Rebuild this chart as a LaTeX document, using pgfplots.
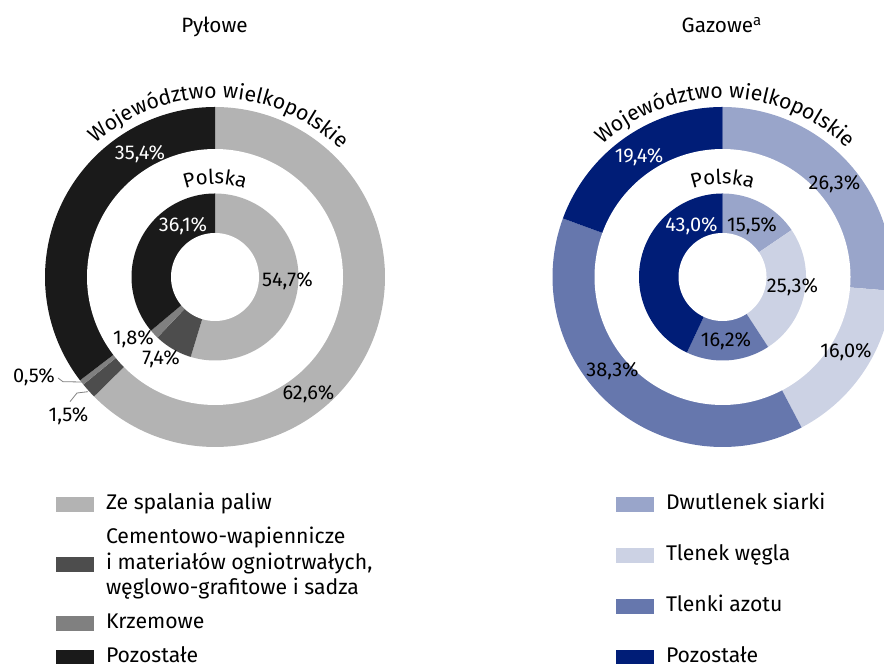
\documentclass[border=0pt]{standalone}
\usepackage{fontspec}
\setmainfont{Fira Sans}
\usepackage{pgfplots}
\pgfplotsset{compat=1.18}
\usetikzlibrary{decorations.text}

\definecolor{gA}{HTML}{B3B3B3}
\definecolor{gC}{HTML}{4D4D4D}
\definecolor{gK}{HTML}{808080}
\definecolor{gP}{HTML}{1A1A1A}
\definecolor{bS}{HTML}{99A5CA}
\definecolor{bC}{HTML}{CCD2E4}
\definecolor{bN}{HTML}{6677AD}
\definecolor{bP}{HTML}{001D77}

\newcommand{\pctfont}{\fontsize{20}{24}\selectfont}
\newcommand{\legfont}{\fontsize{21.3}{25.5}\selectfont}
\newcommand{\arcfont}{\fontsize{21.3}{24}\selectfont}
\newcommand{\polfont}{\fontsize{20.5}{24}\selectfont}
\newcommand{\titfont}{\fontsize{20.8}{24}\selectfont}

% #1 cx, #2 cy, #3 radius, #4 cumulative share before the slice (%), #5 share (%), #6 colour
\newcommand{\slice}[6]{%
  \addplot[draw=none, fill=#6, forget plot, samples=120, variable=\t,
    domain={90-3.6*(#4+#5)}:{90-3.6*(#4)}]
    ({#1+#3*cos(\t)}, {#2+#3*sin(\t)}) -- (axis cs:#1,#2) -- cycle;
}
\newcommand{\hole}[3]{%
  \addplot[draw=none, fill=white, forget plot, samples=180, variable=\t, domain=0:360]
    ({#1+#3*cos(\t)}, {#2+#3*sin(\t)}) -- cycle;
}

\pgfplotsset{
  donut/.style={
    scale only axis, width=442bp, height=664bp,
    ymin=0, ymax=664, hide axis, clip=true,
    legend image code/.code={\fill[##1, draw=none] (0bp,-7.5bp) rectangle (38bp,7.5bp);},
    legend cell align=left,
    legend style={anchor=north west, draw=none, fill=none, inner sep=0pt, outer sep=0pt,
      column sep=12bp, font=\legfont,
      nodes={inner sep=0pt, outer sep=0pt, text height=15bp, text depth=5bp}},
  }
}

\begin{document}
\begin{tikzpicture}
% ---------------- Pyłowe ----------------
\begin{axis}[donut, at={(0bp,0bp)}, anchor=south west, xmin=0, xmax=442,
  legend style={at={(56/442,169.5/664)}, row sep=14bp}]
% outer ring: województwo wielkopolskie
\slice{215}{387}{170}{0}{62.6}{gA}
\slice{215}{387}{170}{62.6}{1.5}{gC}
\slice{215}{387}{170}{62.6+1.5}{0.5}{gK}
\slice{215}{387}{170}{62.6+1.5+0.5}{35.4}{gP}
\hole{215}{387}{128}
% inner ring: Polska
\slice{215}{387}{83.5}{0}{54.7}{gA}
\slice{215}{387}{83.5}{54.7}{7.4}{gC}
\slice{215}{387}{83.5}{54.7+7.4}{1.8}{gK}
\slice{215}{387}{83.5}{54.7+7.4+1.8}{36.1}{gP}
\hole{215}{387}{44}
% leader lines
\addplot[gray, line width=0.8bp, forget plot] coordinates {(58,286) (63,282.3) (82,282)};
\addplot[gray, line width=0.8bp, forget plot] coordinates {(70,262.3) (77,271) (88,272.3)};

\path[decorate, decoration={text along path, text align=center,
  text={|\arcfont|Województwo wielkopolskie}}]
  (axis cs:215,387) ++(173.6:179bp) arc[start angle=173.6, end angle=3.6, radius=179bp];
\path[decorate, decoration={text along path, text align=center,
  text={|\polfont|Polska}}]
  (axis cs:215,387) ++(150:93bp) arc[start angle=150, end angle=30, radius=93bp];

\node[anchor=base, font=\titfont] at (axis cs:214.5,631) {Pyłowe};

\node[anchor=base, font=\pctfont, text=white] at (axis cs:140,504) {35,4\%};
\node[anchor=base, font=\pctfont, text=white] at (axis cs:183,432) {36,1\%};
\node[anchor=base, font=\pctfont] at (axis cs:287.5,377) {54,7\%};
\node[anchor=base, font=\pctfont] at (axis cs:133.5,319) {1,8\%};
\node[anchor=base, font=\pctfont] at (axis cs:161,299) {7,4\%};
\node[anchor=base, font=\pctfont] at (axis cs:308.5,264) {62,6\%};
\node[anchor=base, font=\pctfont] at (axis cs:34,281) {0,5\%};
\node[anchor=base, font=\pctfont] at (axis cs:68.5,242) {1,5\%};

\addlegendimage{fill=gA}
\addlegendentry{Ze spalania paliw}
\addlegendimage{fill=gC}
\addlegendentry[text height=66bp, text depth=5bp]{\vbox{\baselineskip=25.5bp
  \hbox{Cementowo-wapiennicze}\hbox{i materiałów ogniotrwałych,}\hbox{węglowo-grafitowe i sadza}}}
\addlegendimage{fill=gK}
\addlegendentry{Krzemowe}
\addlegendimage{fill=gP}
\addlegendentry{Pozostałe}
\end{axis}

% ---------------- Gazowe ----------------
\begin{axis}[donut, at={(442bp,0bp)}, anchor=south west, xmin=442, xmax=884,
  legend style={at={(174/442,169.5/664)}, row sep=31bp}]
\slice{722.5}{387}{170}{0}{26.3}{bS}
\slice{722.5}{387}{170}{26.3}{16.0}{bC}
\slice{722.5}{387}{170}{26.3+16.0}{38.3}{bN}
\slice{722.5}{387}{170}{26.3+16.0+38.3}{19.4}{bP}
\hole{722.5}{387}{128}
\slice{722.5}{387}{83.5}{0}{15.5}{bS}
\slice{722.5}{387}{83.5}{15.5}{25.3}{bC}
\slice{722.5}{387}{83.5}{15.5+25.3}{16.2}{bN}
\slice{722.5}{387}{83.5}{15.5+25.3+16.2}{43.0}{bP}
\hole{722.5}{387}{44}

\path[decorate, decoration={text along path, text align=center,
  text={|\arcfont|Województwo wielkopolskie}}]
  (axis cs:722.5,387) ++(174:179bp) arc[start angle=174, end angle=4, radius=179bp];
\path[decorate, decoration={text along path, text align=center,
  text={|\polfont|Polska}}]
  (axis cs:722.5,387) ++(150:93bp) arc[start angle=150, end angle=30, radius=93bp];

\node[anchor=base west, font=\titfont, inner sep=0pt] at (axis cs:681.5,631)
  {Gazowe\raisebox{7.5bp}{\fontsize{15}{15}\selectfont a}};

\node[anchor=base, font=\pctfont, text=white] at (axis cs:639,501) {19,4\%};
\node[anchor=base, font=\pctfont] at (axis cs:834.5,474) {26,3\%};
\node[anchor=base, font=\pctfont, text=white] at (axis cs:691.5,432) {43,0\%};
\node[anchor=base, font=\pctfont] at (axis cs:752,432) {15,5\%};
\node[anchor=base, font=\pctfont] at (axis cs:792.5,371) {25,3\%};
\node[anchor=base, font=\pctfont] at (axis cs:726,317) {16,2\%};
\node[anchor=base, font=\pctfont] at (axis cs:846,306) {16,0\%};
\node[anchor=base, font=\pctfont] at (axis cs:612.5,287) {38,3\%};

\addlegendimage{fill=bS}
\addlegendentry{Dwutlenek siarki}
\addlegendimage{fill=bC}
\addlegendentry{Tlenek węgla}
\addlegendimage{fill=bN}
\addlegendentry{Tlenki azotu}
\addlegendimage{fill=bP}
\addlegendentry{Pozostałe}
\end{axis}
\pgfresetboundingbox
\useasboundingbox (0bp,0bp) rectangle (884bp,664bp);
\end{tikzpicture}
\end{document}
